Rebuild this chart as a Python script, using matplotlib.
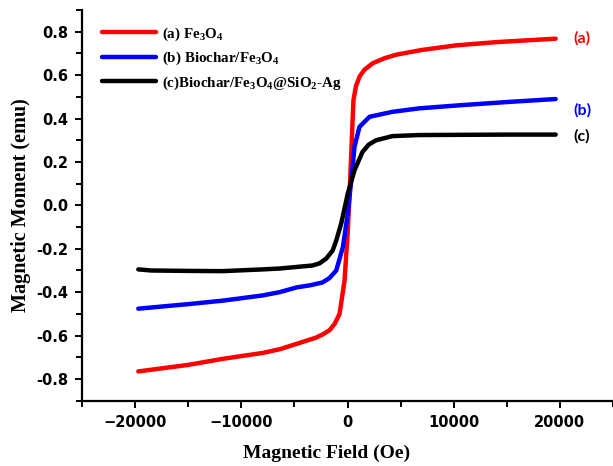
import matplotlib
matplotlib.use('Agg')
import matplotlib.pyplot as plt
from matplotlib.ticker import MultipleLocator

# ── data (field in Oe, moment in emu) ──
field_a = [-19700, -15000, -11740, -8000, -6400, -4790, -3000, -2350, -1690, -1200,
           -750, -280, 30, 250, 440, 560, 800, 1130, 1600, 2380, 3500, 4570,
           7000, 10200, 14000, 19600]
moment_a = [-0.765, -0.735, -0.707, -0.680, -0.663, -0.638, -0.610, -0.595, -0.575, -0.545,
            -0.500, -0.347, -0.116, 0.116, 0.347, 0.486, 0.550, 0.593, 0.625, 0.655, 0.678, 0.694,
            0.716, 0.737, 0.752, 0.768]

field_b = [-19700, -15000, -11740, -8000, -6400, -4790, -3500, -2350, -1700, -1060,
           -440, 30, 350, 660, 1130, 2070, 4230, 6760, 10800, 15000, 19600]
moment_b = [-0.476, -0.455, -0.439, -0.415, -0.400, -0.378, -0.368, -0.355, -0.335, -0.300,
            -0.193, -0.037, 0.116, 0.270, 0.362, 0.408, 0.431, 0.447, 0.462, 0.476, 0.490]

field_c = [-19700, -18500, -15000, -11740, -8000, -6400, -3290, -2630, -2000, -1400,
           -1060, -590, 30, 660, 1410, 2000, 2690, 4230, 6760, 10800, 15000, 19600]
moment_c = [-0.295, -0.300, -0.302, -0.303, -0.295, -0.291, -0.277, -0.267, -0.245, -0.208,
            -0.162, -0.083, 0.055, 0.162, 0.246, 0.280, 0.300, 0.319, 0.324, 0.325, 0.326, 0.326]

legend_labels = [r'(a) Fe$_3$O$_4$',
                 r'(b) Biochar/Fe$_3$O$_4$',
                 r'(c)Biochar/Fe$_3$O$_4$@SiO$_2$-Ag']
tag_labels = ['(a)', '(b)', '(c)']
tag_y = [0.771, 0.436, 0.316]
colors = ['#ff0000', '#0000ff', '#000000']

plt.rcParams['mathtext.fontset'] = 'custom'
plt.rcParams['mathtext.rm'] = 'Liberation Serif:bold'
plt.rcParams['mathtext.it'] = 'Liberation Serif:bold'
plt.rcParams['mathtext.bf'] = 'Liberation Serif:bold'

fig = plt.figure(figsize=(6.13, 4.66), dpi=100)
ax = fig.add_axes([0.1338, 0.1401, 0.8662, 0.8384])

series = [(field_a, moment_a), (field_b, moment_b), (field_c, moment_c)]
for (fx, my), col, lab in zip(series, colors, legend_labels):
    ax.plot(fx, my, color=col, linewidth=3.2, solid_capstyle='round', label=lab)

for lab, yy, col in zip(tag_labels, tag_y, colors):
    ax.text(21300, yy, lab, color=col, fontsize=11.5, fontweight='bold',
            family='Lato', ha='left', va='center')

ax.set_xlim(-25000, 25000)
ax.set_ylim(-0.9, 0.9)
ax.xaxis.set_major_locator(MultipleLocator(10000))
ax.xaxis.set_minor_locator(MultipleLocator(5000))
ax.yaxis.set_major_locator(MultipleLocator(0.2))
ax.yaxis.set_minor_locator(MultipleLocator(0.1))
ax.yaxis.set_major_formatter(matplotlib.ticker.FormatStrFormatter('%.1f'))

for side in ['top', 'right']:
    ax.spines[side].set_visible(False)
for side in ['left', 'bottom']:
    ax.spines[side].set_linewidth(1.6)
ax.tick_params(which='major', direction='out', length=5, width=1.4, pad=5)
ax.tick_params(which='minor', direction='out', length=4, width=1.4)
for t in ax.get_xticklabels() + ax.get_yticklabels():
    t.set_fontweight('bold')
    t.set_fontsize(10.5)
    t.set_family('DejaVu Sans')

ax.set_xlabel('Magnetic Field (Oe)', family='Liberation Serif', fontweight='bold', fontsize=14)
ax.set_ylabel('Magnetic Moment (emu)', family='Liberation Serif', fontweight='bold', fontsize=14.5)
ax.xaxis.set_label_coords(0.46, -0.113)
ax.yaxis.set_label_coords(-0.096, 0.5)

leg = ax.legend(loc='upper left', bbox_to_anchor=(0.013, 0.995), frameon=False,
                handlelength=3.6, handletextpad=0.35, labelspacing=0.48,
                prop={'family': 'Liberation Serif', 'weight': 'bold', 'size': 10.8})
for h in leg.get_lines():
    h.set_linewidth(3.2)

fig.savefig('out.png', dpi=100)
